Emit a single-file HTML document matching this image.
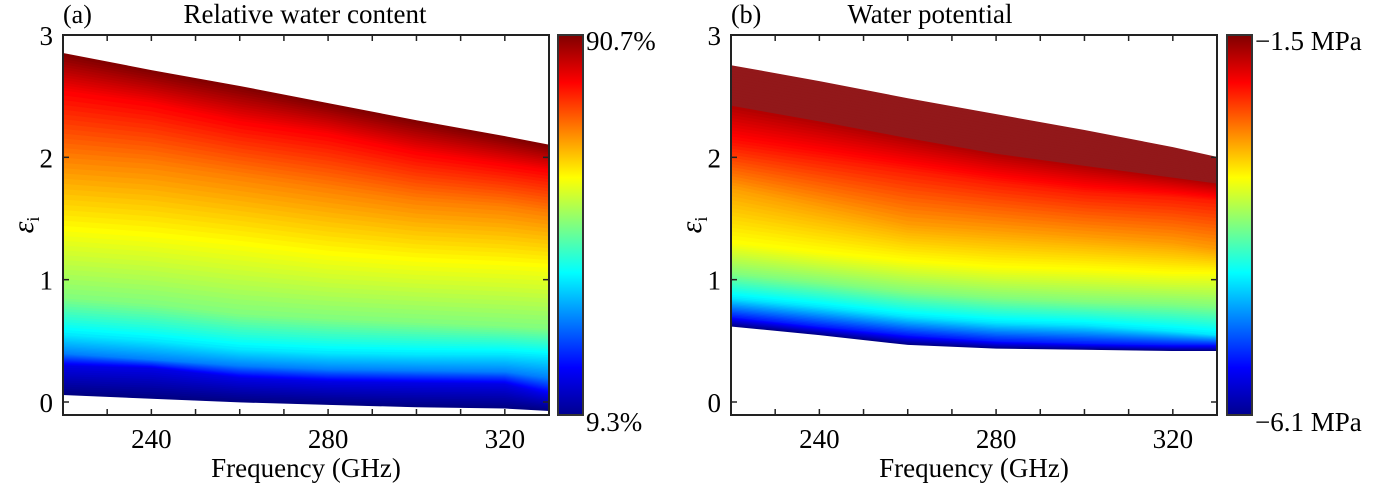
<!DOCTYPE html>
<html><head><meta charset="utf-8"><style>
body{margin:0;background:#fff;}
text{font-family:"Liberation Serif","Times New Roman","DejaVu Serif",serif !important;}
</style></head><body>
<svg id="chart" width="1382" height="487" viewBox="0 0 1382 487" xmlns="http://www.w3.org/2000/svg">
<defs>
<linearGradient id="jetg" x1="0" y1="1" x2="0" y2="0">
<stop offset="0" stop-color="#00008f"/><stop offset="0.125" stop-color="#0000ff"/><stop offset="0.375" stop-color="#00ffff"/><stop offset="0.625" stop-color="#ffff00"/><stop offset="0.875" stop-color="#ff0000"/><stop offset="1" stop-color="#800000"/>
</linearGradient>
</defs>
</svg>
<script>
// shared frequency axis
const freqs = [220,240,260,280,300,320,330];
const xTicks = [240,280,320];
const yTicks = [0,1,2,3];
// panel (a): colormap levels and eps curves
const levelsA = [0,0.1,0.25,0.35,0.5,0.62,0.75,0.88,1.0];
const curvesA = [
 [0.06,0.03,0.0,-0.02,-0.04,-0.05,-0.07],
 [0.30,0.28,0.20,0.17,0.16,0.15,0.06],
 [0.40,0.35,0.30,0.27,0.26,0.25,0.20],
 [0.55,0.50,0.43,0.40,0.39,0.39,0.37],
 [0.85,0.80,0.72,0.68,0.65,0.62,0.60],
 [1.40,1.35,1.28,1.20,1.15,1.12,1.10],
 [2.00,1.95,1.85,1.75,1.65,1.60,1.55],
 [2.55,2.45,2.30,2.20,2.05,1.95,1.90],
 [2.85,2.71,2.58,2.44,2.30,2.17,2.10]];
// panel (b)
const levelsB = [0,0.15,0.35,0.5,0.62,0.72,0.85,0.96,0.96];
const curvesB = [
 [0.62,0.55,0.47,0.44,0.43,0.42,0.42],
 [0.70,0.62,0.55,0.50,0.48,0.47,0.47],
 [0.85,0.78,0.70,0.65,0.63,0.58,0.55],
 [1.05,0.98,0.90,0.85,0.82,0.80,0.78],
 [1.30,1.22,1.15,1.10,1.08,1.05,1.05],
 [1.75,1.60,1.45,1.40,1.35,1.30,1.25],
 [2.10,2.00,1.90,1.80,1.72,1.68,1.65],
 [2.45,2.32,2.18,2.05,1.95,1.85,1.80],
 [2.75,2.62,2.48,2.35,2.22,2.08,2.00]];
const cbLabelsA = ["90.7%","9.3%"];
const cbLabelsB = ["\u22121.5 MPa","\u22126.1 MPa"];

const NS="http://www.w3.org/2000/svg";
const svg=document.getElementById('chart');
function mk(tag,attrs,parent){const e=document.createElementNS(NS,tag);for(const k in attrs)e.setAttribute(k,attrs[k]);(parent||svg).appendChild(e);return e;}
function jet(t,flatTop){
  if(flatTop && t>0.95) return 'rgb(146,24,26)';
  const c=v=>Math.max(0,Math.min(1,v));
  const r=c(Math.min(4*t-1.5,-4*t+4.5)),g=c(Math.min(4*t-0.5,-4*t+3.5)),b=c(Math.min(4*t+0.5,-4*t+2.5));
  return `rgb(${Math.round(r*255)},${Math.round(g*255)},${Math.round(b*255)})`;
}
function txt(parent,attrs,s){const t=mk('text',Object.assign({fill:'#000'},attrs),parent);t.textContent=s;return t;}
function panel(o){
  const g=mk('g',{});
  
  
  const X=f=>o.x0+(f-220)/(330-220)*(o.x1-o.x0);
  const Y=v=>o.y0+(3-v)*(o.y3-o.y0)/3;
  const plot=mk('g',{},g);
  
  
  const S=14;
  for(let i=0;i<o.curves.length-1;i++){
    for(let s=0;s<S;s++){
      const a=s/S,b=(s+1)/S;
      const lo=freqs.map((f,j)=>o.curves[i][j]+(o.curves[i+1][j]-o.curves[i][j])*a);
      const hi=freqs.map((f,j)=>o.curves[i][j]+(o.curves[i+1][j]-o.curves[i][j])*b);
      const t=o.levels[i]+(o.levels[i+1]-o.levels[i])*(a+b)/2;
      let pts=freqs.map((f,j)=>X(f)+','+Y(hi[j]));
      pts=pts.concat(freqs.slice().reverse().map((f,jj)=>{const j=freqs.length-1-jj;return X(f)+','+Y(lo[j]);}));
      const col=jet(t,o.flatTop);
      const p=mk('polygon',{points:pts.join(' '),fill:col,stroke:col,'stroke-width':0.8},plot);
      
      
    }
  }
  const yb=o.ybot;
  const box=mk('rect',{x:o.x0,y:o.y0,width:o.x1-o.x0,height:yb-o.y0,fill:'none',stroke:'#222','stroke-width':2},g);
  
  
  [230,240,250,260,270,280,290,300,310,320].forEach(f=>{
    mk('line',{x1:X(f),x2:X(f),y1:yb,y2:yb-6,stroke:'#222','stroke-width':1.5},g);
    mk('line',{x1:X(f),x2:X(f),y1:o.y0,y2:o.y0+6,stroke:'#222','stroke-width':1.5},g);
  });
  xTicks.forEach(f=>{
    const t=txt(g,{x:X(f),y:yb+33,'font-size':27,'text-anchor':'middle'},String(f));
    
  });
  yTicks.forEach(v=>{
    mk('line',{x1:o.x0,x2:o.x0+6,y1:Y(v),y2:Y(v),stroke:'#222','stroke-width':1.5},g);
    mk('line',{x1:o.x1,x2:o.x1-6,y1:Y(v),y2:Y(v),stroke:'#222','stroke-width':1.5},g);
    const t=txt(g,{x:o.x0-10,y:Y(v)+10,'font-size':27,'text-anchor':'end'},String(v));
    
  });
  const xl=txt(g,{x:(o.x0+o.x1)/2,y:477,'font-size':27,'text-anchor':'middle'},'Frequency (GHz)');
  
  const yl=mk('text',{transform:`translate(${o.x0-30},${225}) rotate(-90)`,'font-size':30,'font-style':'italic','text-anchor':'middle'},g);
  yl.innerHTML='ε<tspan font-size="18" font-style="normal" dy="6">i</tspan>';
  
  const pl=txt(g,{x:o.x0,y:23,'font-size':26,'text-anchor':'start'},o.tag);
  
  const ti=txt(g,{x:o.titleX,y:23,'font-size':27,'text-anchor':'middle'},o.title);
  
  const cb=mk('rect',{x:o.cx,y:o.y0,width:25,height:yb-o.y0,fill:'url(#jetg)',stroke:'#333','stroke-width':2},g);
  
  const c1=txt(g,{x:o.cx+28,y:o.y0+15,'font-size':27},o.cb[0]);
  
  const c2=txt(g,{x:o.cx+28,y:yb+16,'font-size':27},o.cb[1]);
  
}
panel({name:'panel-a-relative-water-content',x0:63,x1:549,y0:35,y3:402,ybot:415,curves:curvesA,levels:levelsA,tag:'(a)',title:'Relative water content',titleX:305,cx:558,cb:cbLabelsA,flatTop:false});
panel({name:'panel-b-water-potential',x0:731,x1:1217,y0:35,y3:402,ybot:415,curves:curvesB,levels:levelsB,tag:'(b)',title:'Water potential',titleX:930,cx:1227,cb:cbLabelsB,flatTop:true});
</script>
</body></html>
